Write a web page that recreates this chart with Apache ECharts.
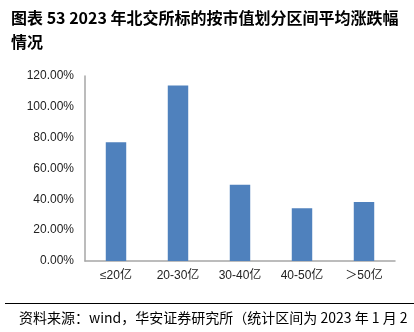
<!DOCTYPE html>
<html><head><meta charset="utf-8">
<script src="https://cdn.jsdelivr.net/npm/echarts@6/dist/echarts.min.js"></script>
<style>html,body{margin:0;padding:0;background:#fff}#c{width:414px;height:332px}</style>
</head><body><div id="c"></div>
<script>
const categories = ["≤20亿", "20-30亿", "30-40亿", "40-50亿", "＞50亿"];
const avgChange = [77.0, 113.9, 49.5, 34.2, 38.3];
const yTicks = [0, 20, 40, 60, 80, 100, 120];

const chart = echarts.init(document.getElementById('c'), null, {renderer: 'canvas'});
chart.setOption({
  animation: false,
  backgroundColor: '#fff',
  title: [{
    text: '图表 53 2023 年北交所标的按市值划分区间平均涨跌幅\n情况',
    left: 6, top: 1,
    textStyle: {fontFamily: 'Noto Sans CJK SC, Liberation Sans', fontSize: 16, fontWeight: 'bold', color: '#000', lineHeight: 24}
  }, {
    text: '资料来源：wind，华安证券研究所（统计区间为 2023 年 1 月 2',
    left: 14, top: 305,
    textStyle: {fontFamily: 'Noto Sans CJK SC, Liberation Sans', fontSize: 14, fontWeight: 'normal', color: '#000', lineHeight: 16}
  }],
  graphic: [{
    type: 'line', shape: {x1: 5, y1: 303.5, x2: 414, y2: 303.5},
    style: {stroke: '#000', lineWidth: 1}
  }],
  grid: {left: 85, right: 19, top: 76, bottom: 71},
  xAxis: {
    type: 'category', data: categories,
    axisLine: {lineStyle: {color: '#a6a6a6', width: 1.5}},
    axisTick: {show: false},
    axisLabel: {color: '#222', fontSize: 12, fontFamily: 'Liberation Sans, Noto Sans CJK SC', margin: 9}
  },
  yAxis: {
    type: 'value', min: yTicks[0], max: yTicks[yTicks.length - 1], interval: 20,
    axisLine: {show: true, lineStyle: {color: '#a6a6a6', width: 1.5}},
    axisTick: {show: false},
    splitLine: {show: false},
    axisLabel: {color: '#222', fontSize: 12, fontFamily: 'Liberation Sans', margin: 11,
      formatter: v => v.toFixed(2) + '%'}
  },
  series: [{
    type: 'bar', data: avgChange, barWidth: '33%',
    itemStyle: {color: '#4f81bd'}
  }]
});
</script></body></html>
